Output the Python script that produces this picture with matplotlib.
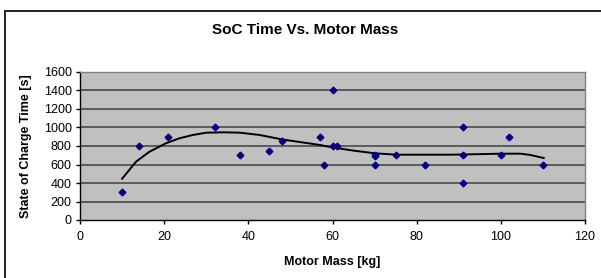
import matplotlib
matplotlib.use("Agg")
import matplotlib.pyplot as plt
from matplotlib.patches import Rectangle

# Data points
mass_kg = [10, 14, 21, 32, 38, 45, 48, 57, 58, 60, 60, 61, 70, 70, 70, 75, 82, 91, 91, 91, 100, 102, 110]
soc_time_s = [300, 800, 900, 1000, 700, 750, 850, 900, 600, 1400, 800, 800, 700, 690, 600, 700, 600, 1000, 700, 400, 700, 900, 600]

# Trend line
trend_x = [10, 13.3, 16.5, 20.4, 23.6, 26.8, 30, 34, 38, 42.7, 47.9, 57, 59.8, 65, 70.1, 75.3, 88, 95, 100, 104.7, 107, 110.2]
trend_y = [446, 630, 738, 829, 883, 919, 944, 948, 944, 919, 872, 811, 786, 750, 721, 706, 706, 712, 717, 717, 703, 670]

x_ticks = [0, 20, 40, 60, 80, 100, 120]
y_ticks = [0, 200, 400, 600, 800, 1000, 1200, 1400, 1600]

W, H = 601, 278
fig = plt.figure(figsize=(W / 100, H / 100), dpi=100)
plt.rcParams['font.family'] = ['Liberation Sans', 'DejaVu Sans']

# outer chart border
fig.patches.append(Rectangle((5 / W, -0.1), 1.2, (H - 10.5) / H + 0.1, transform=fig.transFigure,
                             facecolor='white', edgecolor='#222222', linewidth=1.4, zorder=-1))

left, right, top, bottom = 80, 585, 72, 220
ax = fig.add_axes([left / W, 1 - bottom / H, (right - left) / W, (bottom - top) / H])
ax.set_facecolor('#C0C0C0')

ax.set_xlim(0, 120)
ax.set_ylim(0, 1600)
ax.set_xticks(x_ticks)
ax.set_yticks(y_ticks)
ax.tick_params(axis='both', direction='out', length=3, width=1, labelsize=9, colors='black', pad=3)
ax.tick_params(axis='x', pad=5)

for y in y_ticks[1:-1]:
    ax.axhline(y, color='#404040', linewidth=1.1, zorder=1)

for s in ['top', 'right']:
    ax.spines[s].set_color('#808080')
    ax.spines[s].set_linewidth(1.0)
for s in ['left', 'bottom']:
    ax.spines[s].set_color('black')
    ax.spines[s].set_linewidth(1.0)

ax.plot(trend_x, trend_y, color='black', linewidth=1.4, zorder=3)
ax.plot(mass_kg, soc_time_s, linestyle='none', marker='D', markersize=3.4,
        color='#00007F', zorder=4)

fig.text(305.5 / W, 1 - 30.5 / H, 'SoC Time Vs. Motor Mass', ha='center', va='center',
         fontsize=11, fontweight='bold')
fig.text(332.5 / W, 1 - 261.5 / H, 'Motor Mass [kg]', ha='center', va='center',
         fontsize=9, fontweight='bold')
fig.text(26 / W, 1 - 146 / H, 'State of Charge Time [s]', ha='center', va='center',
         rotation=90, fontsize=9, fontweight='bold')

fig.savefig('out.png', dpi=100)
